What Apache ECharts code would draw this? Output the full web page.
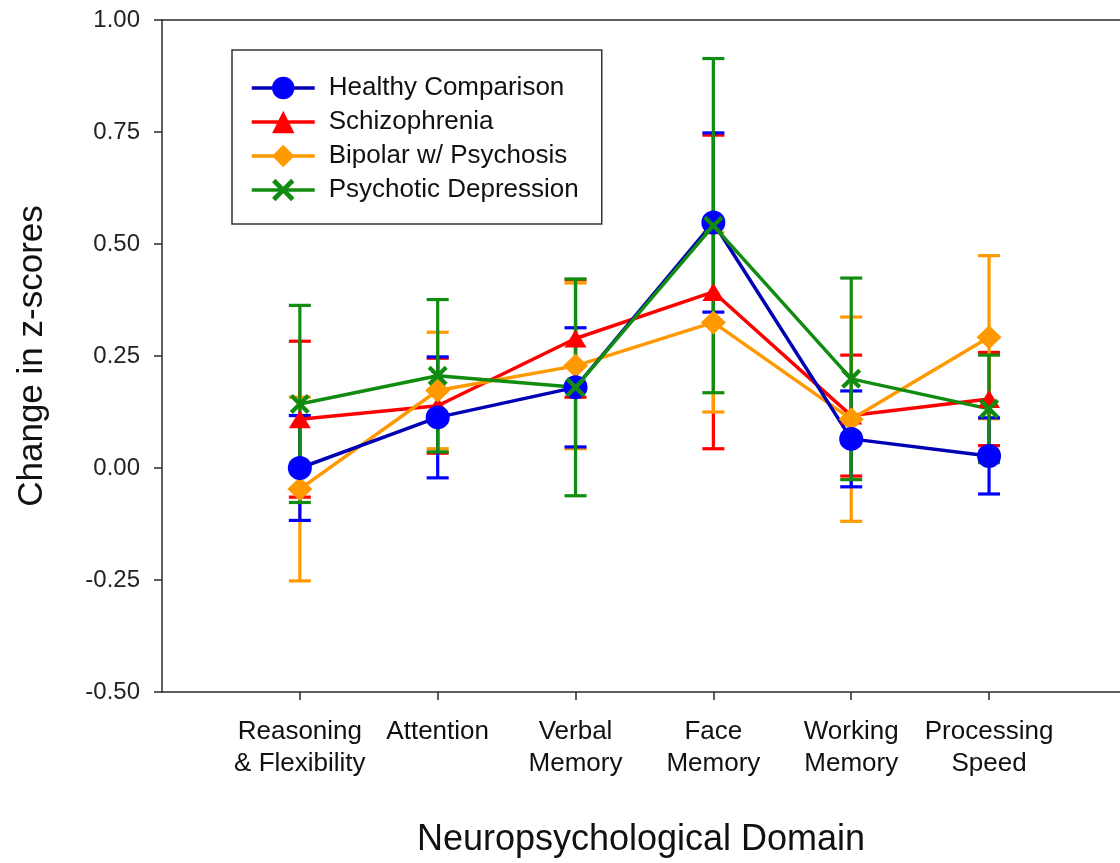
<!DOCTYPE html>
<html>
<head>
<meta charset="utf-8">
<script src="https://cdn.jsdelivr.net/npm/echarts@6/dist/echarts.min.js"></script>
<style>html,body{margin:0;padding:0;background:#fff;}#c{width:1120px;height:863px;}</style>
</head>
<body>
<div id="c"></div>
<script>
const categories = ['Reasoning\n& Flexibility', 'Attention', 'Verbal\nMemory', 'Face\nMemory', 'Working\nMemory', 'Processing\nSpeed'];
const yTicks = [-0.50, -0.25, 0.00, 0.25, 0.50, 0.75, 1.00];

const healthy = [0.000, 0.113, 0.180, 0.548, 0.065, 0.027];
const healthyErr = [0.117, 0.135, 0.133, 0.200, 0.107, 0.085];
const schizo = [0.109, 0.139, 0.289, 0.393, 0.117, 0.154];
const schizoErr = [0.174, 0.106, 0.131, 0.350, 0.135, 0.104];
const bipolar = [-0.047, 0.173, 0.228, 0.325, 0.109, 0.292];
const bipolarErr = [0.205, 0.130, 0.185, 0.200, 0.228, 0.182];
const psychDep = [0.143, 0.206, 0.180, 0.541, 0.199, 0.132];
const psychDepErr = [0.220, 0.170, 0.242, 0.373, 0.225, 0.120];

const FONT = 'Arial, "Liberation Sans", sans-serif';
const X_PATH = 'path://M0,3 L3,0 L10,7 L17,0 L20,3 L13,10 L20,17 L17,20 L10,13 L3,20 L0,17 L7,10 Z';
const catIdx = categories.map((c, i) => i + 1);

const groups = [
  { name: 'Schizophrenia', vals: schizo, errs: schizoErr, line: '#ff0000', mark: '#ff0000', symbol: 'triangle', size: [22, 18] },
  { name: 'Bipolar w/ Psychosis', vals: bipolar, errs: bipolarErr, line: '#ff9900', mark: '#ff9900', symbol: 'diamond', size: [25, 24] },
  { name: 'Healthy Comparison', vals: healthy, errs: healthyErr, line: '#0000b4', mark: '#0000ff', symbol: 'circle', size: 24 },
  { name: 'Psychotic Depression', vals: psychDep, errs: psychDepErr, line: '#118c11', mark: '#118c11', symbol: X_PATH, size: 20 }
];

function errRender(color) {
  return function (params, api) {
    const x = api.value(0), m = api.value(1), e = api.value(2);
    const top = api.coord([x, m + e]);
    const bot = api.coord([x, m - e]);
    const hw = 11;
    const st = { stroke: color, lineWidth: 3.2 };
    return {
      type: 'group',
      children: [
        { type: 'line', shape: { x1: top[0], y1: top[1], x2: bot[0], y2: bot[1] }, style: st },
        { type: 'line', shape: { x1: top[0] - hw, y1: top[1], x2: top[0] + hw, y2: top[1] }, style: st },
        { type: 'line', shape: { x1: bot[0] - hw, y1: bot[1], x2: bot[0] + hw, y2: bot[1] }, style: st }
      ]
    };
  };
}

const series = [];
groups.forEach(g => {
  series.push({
    name: g.name,
    type: 'line',
    data: g.vals.map((v, i) => [i + 1, v]),
    symbol: g.symbol,
    symbolSize: g.size,
    lineStyle: { color: g.line, width: 3.5 },
    itemStyle: { color: g.mark, borderWidth: 0 },
    emphasis: { disabled: true },
    z: 3
  });
  series.push({
    name: g.name + ' err',
    type: 'custom',
    data: g.vals.map((v, i) => [i + 1, v, g.errs[i]]),
    encode: { x: 0, y: 1 },
    renderItem: errRender(g.mark),
    z: 3,
    silent: true
  });
});

const axisColor = '#2a2a2a';
const chart = echarts.init(document.getElementById('c'), null, { renderer: 'canvas' });
chart.setOption({
  animation: false,
  backgroundColor: '#ffffff',
  grid: { left: 162, right: 0, top: 20, bottom: 170, show: false },
  legend: {
    data: ['Healthy Comparison', 'Schizophrenia', 'Bipolar w/ Psychosis', 'Psychotic Depression'],
    orient: 'vertical',
    left: 232, top: 50,
    padding: [25, 23, 21, 18],
    itemWidth: 63, itemHeight: 28, itemGap: 8,
    borderColor: '#333', borderWidth: 1.5,
    backgroundColor: '#ffffff',
    lineStyle: { width: 3.5 },
    textStyle: { fontFamily: FONT, fontSize: 26, color: '#111', padding: [0, 0, 0, 9] }
  },
  xAxis: [{
    type: 'value', min: 0, max: 6.95,
    name: 'Neuropsychological Domain', nameLocation: 'middle', nameGap: 130,
    nameTextStyle: { fontFamily: FONT, fontSize: 36, color: '#111' },
    axisLine: { show: true, onZero: false, lineStyle: { color: axisColor, width: 1.5 } },
    axisTick: { show: true, length: 8, lineStyle: { color: axisColor, width: 1.5 }, customValues: catIdx },
    splitLine: { show: false },
    axisLabel: {
      customValues: catIdx,
      margin: 24, fontFamily: FONT, fontSize: 26, lineHeight: 32, color: '#111', align: 'center',
      formatter: v => categories[Math.round(v) - 1] || ''
    }
  }, {
    type: 'value', min: 0, max: 6.95, position: 'top',
    axisLine: { show: true, onZero: false, lineStyle: { color: axisColor, width: 1.5 } },
    axisTick: { show: false }, axisLabel: { show: false }, splitLine: { show: false }
  }],
  yAxis: {
    type: 'value', min: yTicks[0], max: yTicks[yTicks.length - 1], interval: 0.25,
    name: 'Change in z-scores', nameLocation: 'middle', nameGap: 112, nameRotate: 90,
    nameTextStyle: { fontFamily: FONT, fontSize: 35, color: '#111' },
    axisLine: { show: true, onZero: false, lineStyle: { color: axisColor, width: 1.5 } },
    axisTick: { show: true, length: 8, lineStyle: { color: axisColor, width: 1.5 } },
    splitLine: { show: false },
    axisLabel: { margin: 22, fontFamily: FONT, fontSize: 24, color: '#222', formatter: v => v.toFixed(2) }
  },
  series: series
});
</script>
</body>
</html>
